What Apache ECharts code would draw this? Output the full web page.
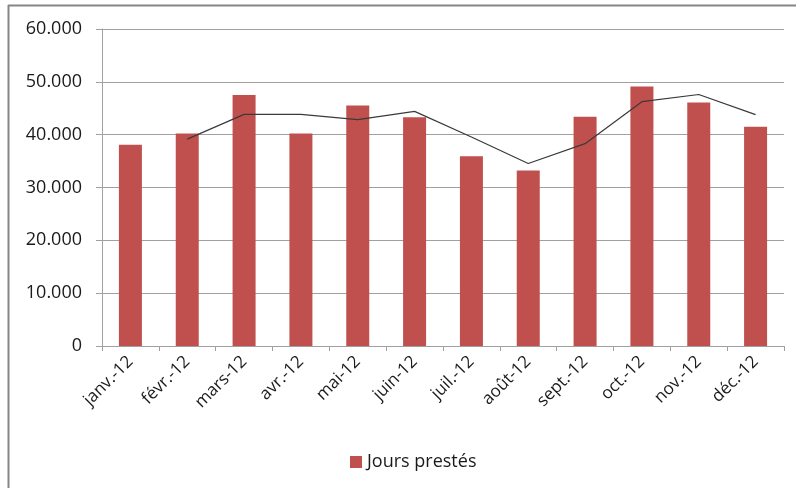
<!DOCTYPE html>
<html><head><meta charset="utf-8">
<script src="https://cdn.jsdelivr.net/npm/echarts@6/dist/echarts.min.js"></script>
<style>html,body{margin:0;padding:0;background:#fff}#c{width:796px;height:488px}</style>
</head><body><div id="c"></div>
<script>
const categories = ['janv.-12','févr.-12','mars-12','avr.-12','mai-12','juin-12','juil.-12','août-12','sept.-12','oct.-12','nov.-12','déc.-12'];
const joursPrestes = [38100, 40200, 47500, 40200, 45500, 43300, 35900, 33200, 43400, 49100, 46100, 41500];
const moyenneMobile = [null, 39150, 43850, 43850, 42850, 44400, 39550, 34550, 38300, 46250, 47600, 43800];
const yTicks = [0, 10000, 20000, 30000, 40000, 50000, 60000];

const fmt = v => v === 0 ? '0' : String(v).replace(/\B(?=(\d{3})+(?!\d))/g, '.');
const FONT = '"Open Sans", "Noto Sans", sans-serif';
const chart = echarts.init(document.getElementById('c'), null, {renderer: 'canvas'});
chart.setOption({
  animation: false,
  backgroundColor: '#fff',
  textStyle: {fontFamily: FONT},
  grid: {left: 102, right: 12, top: 29, bottom: 142},
  legend: {
    data: [{name: 'Jours prestés', icon: 'rect'}],
    left: 345, top: 448,
    itemWidth: 12, itemHeight: 12, itemGap: 6,
    textStyle: {fontSize: 18, color: '#1a1a1a', fontFamily: FONT}
  },
  xAxis: {
    type: 'category', data: categories, boundaryGap: true,
    axisLine: {show: true, lineStyle: {color: '#a0a0a0', width: 1}},
    axisTick: {show: true, alignWithLabel: false, length: 5, lineStyle: {color: '#a0a0a0'}},
    axisLabel: {rotate: 45, interval: 0, fontSize: 17, color: '#1a1a1a', margin: 13, fontFamily: FONT}
  },
  yAxis: {
    type: 'value', min: yTicks[0], max: yTicks[yTicks.length - 1], interval: 10000,
    axisLine: {show: true, lineStyle: {color: '#a0a0a0'}},
    axisTick: {show: true, length: 6, lineStyle: {color: '#a0a0a0'}},
    splitLine: {show: true, lineStyle: {color: '#a0a0a0', width: 1}},
    axisLabel: {formatter: fmt, fontSize: 18, color: '#1a1a1a', margin: 20, fontFamily: FONT}
  },
  series: [
    {
      name: 'Jours prestés', type: 'bar', data: joursPrestes, barWidth: 23,
      itemStyle: {color: '#C0504D'}
    },
    {
      name: 'Moyenne', type: 'line', data: moyenneMobile, symbol: 'none',
      lineStyle: {color: '#3a3a3a', width: 1.2}, itemStyle: {color: '#3a3a3a'}, z: 5
    }
  ],
  graphic: [
    {type: 'line', shape: {x1: 8, y1: 5.5, x2: 796, y2: 5.5}, style: {stroke: '#868686', lineWidth: 2}},
    {type: 'line', shape: {x1: 8.5, y1: 5, x2: 8.5, y2: 488}, style: {stroke: '#868686', lineWidth: 2}}
  ]
});
</script></body></html>
